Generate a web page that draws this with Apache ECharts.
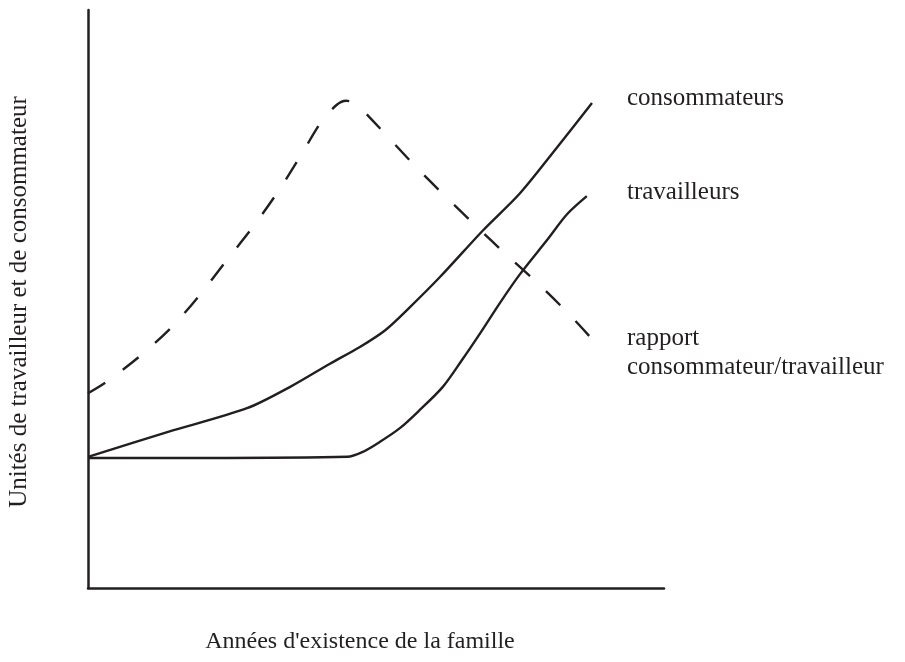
<!DOCTYPE html>
<html>
<head>
<meta charset="utf-8">
<style>
  html, body { margin: 0; padding: 0; background: #fff; }
  #chart { width: 905px; height: 662px; }
</style>
<script src="https://cdn.jsdelivr.net/npm/echarts@6/dist/echarts.min.js"></script>
</head>
<body>
<div id="chart"></div>
<script>
// Years of the family's existence (arbitrary 0–100 scale) and units (0–100)
const consommateursX = [0, 13.9, 27.6, 35.1, 42.0, 47.2, 51.6, 55.9, 61.1, 68.6, 75.0, 81.25, 87.5];
const consommateursY = [22.7, 27.0, 31.1, 34.8, 38.8, 41.7, 44.6, 48.6, 53.8, 61.9, 68.3, 76.0, 83.9];

const travailleursX = [0, 20.0, 45.0, 47.6, 50.7, 54.2, 57.6, 61.6, 64.9, 68.1, 71.5, 75.0, 79.7, 83.2, 86.6];
const travailleursY = [22.5, 22.5, 22.7, 23.5, 25.3, 27.7, 30.8, 34.8, 39.4, 44.1, 49.3, 54.3, 60.2, 64.7, 67.8];

const rapportX = [0, 3.1, 9.0, 14.6, 19.4, 24.0, 28.5, 32.8, 36.8, 40.6, 43.2, 44.8, 46.5, 49.3, 56.8, 62.0, 67.4, 72.7, 78.0, 83.3, 87.2];
const rapportY = [33.7, 35.6, 40.1, 45.2, 50.7, 56.6, 62.3, 68.3, 74.6, 80.8, 83.6, 84.3, 83.7, 81.0, 73.0, 67.8, 62.6, 57.6, 52.8, 47.6, 43.4];

const seriesNames = ['consommateurs', 'travailleurs', 'rapport\nconsommateur/travailleur'];
const xTitle = "Années d'existence de la famille";
const yTitle = 'Unités de travailleur et de consommateur';

const ink = '#231f20';
const font = '"Liberation Serif", "Times New Roman", serif';

function pairs(xs, ys) { return xs.map((x, i) => [x, ys[i]]); }

const chart = echarts.init(document.getElementById('chart'), null, { renderer: 'canvas' });

const axisCommon = {
  type: 'value',
  min: 0,
  max: 100,
  axisLine: { show: true, onZero: false, lineStyle: { color: ink, width: 2.5 } },
  axisTick: { show: false },
  axisLabel: { show: false },
  splitLine: { show: false }
};

const curve = { type: 'line', smooth: 0.3, showSymbol: false };

chart.setOption({
  backgroundColor: '#ffffff',
  animation: false,
  grid: { left: 88, right: 241, top: 10, bottom: 74, containLabel: false },
  xAxis: axisCommon,
  yAxis: axisCommon,
  series: [
    Object.assign({}, curve, {
      name: seriesNames[0], data: pairs(consommateursX, consommateursY),
      lineStyle: { color: ink, width: 2.4 }
    }),
    Object.assign({}, curve, {
      name: seriesNames[1], data: pairs(travailleursX, travailleursY),
      lineStyle: { color: ink, width: 2.4 }
    }),
    Object.assign({}, curve, {
      name: seriesNames[2], data: pairs(rapportX, rapportY),
      lineStyle: { color: ink, width: 2.4, type: [20, 22], cap: 'butt' }
    })
  ],
  graphic: [
    { type: 'text', left: 627, top: 86, style: { text: seriesNames[0], font: '25px ' + font, fill: ink } },
    { type: 'text', left: 627, top: 180, style: { text: seriesNames[1], font: '25px ' + font, fill: ink } },
    { type: 'text', left: 627, top: 324, style: { text: seriesNames[2], font: '25px ' + font, fill: ink, lineHeight: 29 } },
    { type: 'text', x: 360, y: 642, style: { text: xTitle, font: '24px ' + font, fill: ink, align: 'center', verticalAlign: 'middle' } },
    { type: 'text', x: 19, y: 302, rotation: Math.PI / 2, style: { text: yTitle, font: '25px ' + font, fill: ink, align: 'center', verticalAlign: 'middle' } }
  ]
});
</script>
</body>
</html>
